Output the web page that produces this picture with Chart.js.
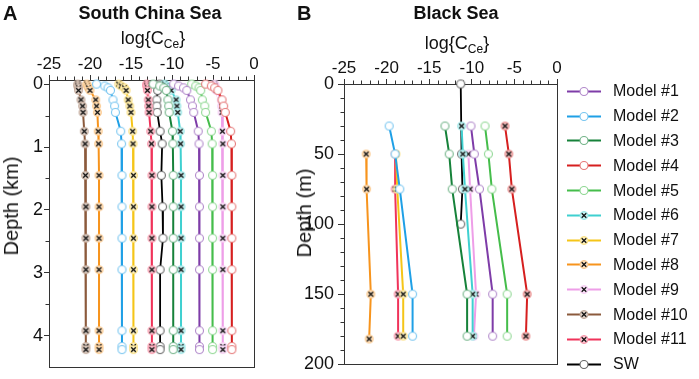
<!DOCTYPE html>
<html><head><meta charset="utf-8">
<script src="https://cdn.jsdelivr.net/npm/chart.js@4.4.1/dist/chart.umd.min.js"></script>
<style>
html,body{margin:0;padding:0;background:#fff;width:699px;height:379px;overflow:hidden;font-family:'Liberation Sans',Arial,Helvetica,sans-serif;color:#111}
#cA{position:absolute;left:0;top:0}
#cB{position:absolute;left:290px;top:0}
.t{position:absolute;white-space:nowrap;line-height:1}
.panel{font-weight:bold;font-size:20px}
.title{font-weight:bold;font-size:18px;transform:translateX(-50%)}
.xt{font-size:18px;transform:translateX(-50%)}
.sub{font-size:12px;position:relative;top:4px}
.yt{font-size:20px;transform:translate(-50%,-50%) rotate(-90deg)}
#legend{position:absolute;left:567px;top:79px}
.lrow{display:flex;align-items:center;height:24.8px;font-size:16px}
.lrow canvas{margin-right:12px}
</style></head>
<body>
<canvas id="cA" width="290" height="379"></canvas>
<canvas id="cB" width="409" height="379"></canvas>
<div class="t panel" style="left:3px;top:3px">A</div>
<div class="t title" style="left:150px;top:4px">South China Sea</div>
<div class="t xt" style="left:153px;top:29px">log{C<span class="sub">Ce</span>}</div>
<div class="t yt" style="left:11px;top:206px">Depth (km)</div>
<div class="t panel" style="left:297px;top:3px">B</div>
<div class="t title" style="left:456px;top:4px">Black Sea</div>
<div class="t xt" style="left:457px;top:34px">log{C<span class="sub">Ce</span>}</div>
<div class="t yt" style="left:304px;top:213px">Depth (m)</div>
<div id="legend"></div>
<script>
const FONT = "'Liberation Sans', Arial, Helvetica, sans-serif";

// ---- series meta ----
const seriesNames = ['Model #1','Model #2','Model #3','Model #4','Model #5','Model #6','Model #7','Model #8','Model #9','Model #10','Model #11','SW'];
const seriesColors = ['#7e3ca8','#1fa0e6','#16823a','#d61f1f','#45bd4b','#3fd0d0','#f5c518','#f7941d','#ee9ee8','#8b5a3c','#f0335a','#000000'];
const markerKinds = ['o','o','o','o','o','x','x','x','x','x','x','o'];

// ---- ticks ----
const xTicks = [-25,-20,-15,-10,-5,0];
const yTicksA = [0,1,2,3,4];
const yTicksB = [0,50,100,150,200];
const minorX = [-24,-23,-22,-21,-19,-18,-17,-16,-14,-13,-12,-11,-9,-8,-7,-6,-4,-3,-2,-1];
const minorYA = [0.5,1.5,2.5,3.5];
const minorYB = [10,20,30,40,60,70,80,90,110,120,130,140,160,170,180,190];

// ---- Panel A: South China Sea (depth km) ----
const depthA = [0,0.03,0.06,0.1,0.25,0.35,0.45,0.75,0.95,1.45,1.95,2.45,2.95,3.92,4.17,4.22];
const A_M1  = [-9.8,-9.2,-8.6,-8.2,-7.75,-7.5,-7.35,-6.8,-6.7,-6.65,-6.65,-6.65,-6.65,-6.65,-6.65,-6.65];
const A_M2  = [-19.2,-18.2,-17.8,-17.5,-17.2,-17.0,-16.9,-16.25,-16.15,-16.1,-16.1,-16.1,-16.1,-16.1,-16.1,-16.1];
const A_M3  = [-12.3,-11.5,-11.0,-10.7,-10.5,-10.4,-10.35,-9.95,-9.9,-9.85,-9.85,-9.85,-9.85,-9.85,-9.85,-9.85];
const A_M4  = [-5.9,-5.2,-4.8,-4.4,-3.9,-3.7,-3.5,-2.85,-2.75,-2.7,-2.7,-2.7,-2.7,-2.7,-2.7,-2.7];
const A_M5  = [-7.6,-7.1,-6.7,-6.5,-6.3,-6.0,-5.9,-5.2,-5.1,-5.05,-5.05,-5.05,-5.05,-5.05,-5.05,-5.05];
const A_M6  = [-10.9,-10.7,-10.4,-10.1,-9.5,-9.4,-9.3,-9.0,-8.95,-8.9,-8.9,-8.9,-8.9,-8.9,-8.9,-8.9];
const A_M7  = [-16.5,-16.2,-15.8,-15.6,-15.35,-15.15,-15.0,-14.8,-14.75,-14.7,-14.7,-14.7,-14.7,-14.7,-14.7,-14.7];
const A_M8  = [-20.4,-20.3,-20.2,-20.0,-19.3,-19.2,-19.1,-19.0,-18.95,-18.9,-18.9,-18.9,-18.9,-18.9,-18.9,-18.9];
const A_M9  = [-4.8,-4.75,-4.7,-4.6,-4.0,-3.95,-3.9,-3.85,-3.8,-3.8,-3.8,-3.8,-3.8,-3.8,-3.8,-3.8];
const A_M10 = [-21.5,-21.5,-21.4,-21.4,-21.1,-20.9,-20.85,-20.7,-20.6,-20.55,-20.5,-20.5,-20.5,-20.5,-20.5,-20.5];
const A_M11 = [-13.1,-13.1,-13.0,-13.0,-12.9,-12.85,-12.8,-12.6,-12.5,-12.45,-12.45,-12.45,-12.45,-12.45,-12.45,-12.45];
const A_SW  = [-11.5,-11.55,-11.65,-11.75,-11.85,-11.85,-11.8,-11.45,-11.2,-11.3,-11.15,-11.1,-11.45,-11.45,-11.45,-11.45];

// ---- Panel B: Black Sea (depth m) ----
const depthB = [30,50,75,150,180];
const depthB_late = [50,75,150,180];
const depthB_M8 = [50,75,150,182];
const depthB_SW = [0,50,75,100];
const B_M1  = [-10.1,-9.7,-9.1,-7.55,-7.55];
const B_M2  = [-19.7,-19.0,-18.45,-16.95,-16.95];
const B_M3  = [-13.15,-12.65,-12.3,-10.55,-10.55];
const B_M4  = [-6.1,-5.65,-5.3,-3.5,-3.65];
const B_M5  = [-8.45,-8.05,-7.65,-5.85,-5.85];
const B_M6  = [-11.2,-11.05,-10.8,-9.9,-9.9];
const B_M7  = [-18.9,-18.75,-18.05,-18.05];
const B_M8  = [-22.4,-22.35,-21.85,-22.05];
const B_M9  = [-10.4,-10.2,-9.5,-9.75];
const B_M10 = [];
const B_M11 = [-19.0,-19.0,-18.65,-18.65];
const B_SW  = [-11.3,-11.2,-11.1,-11.3];

const valuesA = [A_M1,A_M2,A_M3,A_M4,A_M5,A_M6,A_M7,A_M8,A_M9,A_M10,A_M11,A_SW];
const valuesB = [B_M1,B_M2,B_M3,B_M4,B_M5,B_M6,B_M7,B_M8,B_M9,B_M10,B_M11,B_SW];
const depthsB = [depthB,depthB,depthB,depthB,depthB,depthB,depthB_late,depthB_M8,depthB_late,[],depthB_late,depthB_SW];

// ---- marker images ----
function tint(hex, t) {
  const n = parseInt(hex.slice(1), 16);
  const r = (n >> 16) & 255, g = (n >> 8) & 255, b = n & 255;
  const f = c => Math.round(c + (255 - c) * t);
  return 'rgb(' + f(r) + ',' + f(g) + ',' + f(b) + ')';
}
function marker(color, kind, withLine) {
  const w = withLine ? 34 : 11, h = 11;
  const c = document.createElement('canvas');
  c.width = w; c.height = h;
  const g = c.getContext('2d');
  const cx = w / 2, cy = h / 2;
  if (withLine) {
    g.strokeStyle = color; g.lineWidth = 2;
    g.beginPath(); g.moveTo(0, cy); g.lineTo(w, cy); g.stroke();
  }
  g.beginPath(); g.arc(cx, cy, 4, 0, Math.PI * 2);
  if (kind === 'o') {
    g.fillStyle = '#fff'; g.fill();
    g.strokeStyle = color === '#000000' ? '#666' : tint(color, 0.4);
    g.lineWidth = 1.1; g.stroke();
  } else {
    g.fillStyle = tint(color, 0.72); g.fill();
    g.strokeStyle = tint(color, 0.45); g.lineWidth = 1; g.stroke();
    g.strokeStyle = '#111'; g.lineWidth = 1.3;
    const d = 2.3;
    g.beginPath();
    g.moveTo(cx - d, cy - d); g.lineTo(cx + d, cy + d);
    g.moveTo(cx + d, cy - d); g.lineTo(cx - d, cy + d);
    g.stroke();
  }
  return c;
}

function makeDatasets(values, depths, kinds) {
  return values.map((vals, i) => ({
    label: seriesNames[i],
    data: vals.map((v, k) => ({ x: v, y: depths[i][k] })),
    showLine: true,
    borderColor: seriesColors[i],
    backgroundColor: seriesColors[i],
    borderWidth: i === 11 ? 1.8 : 2,
    pointStyle: marker(seriesColors[i], kinds[i], false),
    pointRadius: 4,
    pointHoverRadius: 4,
    tension: 0,
    clip: false
  }));
}

const frame = {
  id: 'frame',
  beforeDatasetsDraw(chart, args, o) {
    const { ctx, chartArea: a, scales } = chart;
    const al = v => Math.round(v) + 0.5;
    ctx.save();
    ctx.strokeStyle = '#333'; ctx.lineWidth = 1;
    ctx.strokeRect(al(a.left), al(a.top), Math.round(a.right) - Math.round(a.left), Math.round(a.bottom) - Math.round(a.top));
    ctx.beginPath();
    (o.minorX || []).forEach(v => {
      const px = al(scales.x.getPixelForValue(v));
      ctx.moveTo(px, al(a.top)); ctx.lineTo(px, al(a.top) - o.len);
    });
    (o.minorY || []).forEach(v => {
      const py = al(scales.y.getPixelForValue(v));
      ctx.moveTo(al(a.left), py); ctx.lineTo(al(a.left) - o.len, py);
    });
    ctx.stroke();
    ctx.restore();
  }
};

function makeScales(cfg) {
  return {
    x: {
      type: 'linear', position: 'top', min: -25, max: 0,
      afterBuildTicks: s => { s.ticks = xTicks.map(v => ({ value: v })); },
      afterFit: s => { s.height = cfg.topH; },
      ticks: { font: { size: 17, family: FONT }, color: '#111', padding: cfg.xPad, autoSkip: false, maxRotation: 0 },
      grid: { drawOnChartArea: false, tickLength: 5, color: '#333' },
      border: { color: '#333', width: 1 }
    },
    y: {
      type: 'linear', reverse: true, min: cfg.yMin, max: cfg.yMax,
      afterBuildTicks: s => { s.ticks = cfg.yTicks.map(v => ({ value: v })); },
      afterFit: s => { s.width = cfg.leftW; },
      ticks: { font: { size: 18, family: FONT }, color: '#111', padding: cfg.yPad, autoSkip: false },
      grid: { drawOnChartArea: false, tickLength: cfg.yTick, color: '#333' },
      border: { color: '#333', width: 1 }
    }
  };
}

new Chart(document.getElementById('cA'), {
  type: 'scatter',
  data: { datasets: makeDatasets(valuesA, valuesA.map(() => depthA), markerKinds) },
  options: {
    responsive: false, animation: false, events: [],
    layout: { padding: { left: 0, top: 0, right: 36, bottom: 6 } },
    plugins: { legend: { display: false }, tooltip: { enabled: false },
      frame: { minorX: minorX, minorY: minorYA, len: 4 } },
    scales: makeScales({ topH: 80, leftW: 49, yMin: -0.065, yMax: 4.5, yTicks: yTicksA, xPad: 0, yPad: 1, yTick: 5 })
  },
  plugins: [frame]
});

const kindsB = markerKinds.slice();
kindsB[3] = 'x';
const chartB = new Chart(document.getElementById('cB'), {
  type: 'scatter',
  data: { datasets: makeDatasets(valuesB, depthsB, kindsB) },
  options: {
    responsive: false, animation: false, events: [],
    layout: { padding: { left: 0, top: 0, right: 142, bottom: 7.5 } },
    plugins: { legend: { display: false }, tooltip: { enabled: false },
      frame: { minorX: minorX, minorY: minorYB, len: 4 } },
    scales: makeScales({ topH: 84, leftW: 54, yMin: 0, yMax: 200, yTicks: yTicksB, xPad: 0, yPad: 4, yTick: 6 })
  },
  plugins: [frame]
});

// HTML legend built from the chart's datasets
const legendEl = document.getElementById('legend');
chartB.data.datasets.forEach((ds, i) => {
  const row = document.createElement('div');
  row.className = 'lrow';
  row.appendChild(marker(seriesColors[i], markerKinds[i], true));
  const s = document.createElement('span');
  s.textContent = ds.label;
  row.appendChild(s);
  legendEl.appendChild(row);
});
</script>
</body></html>
